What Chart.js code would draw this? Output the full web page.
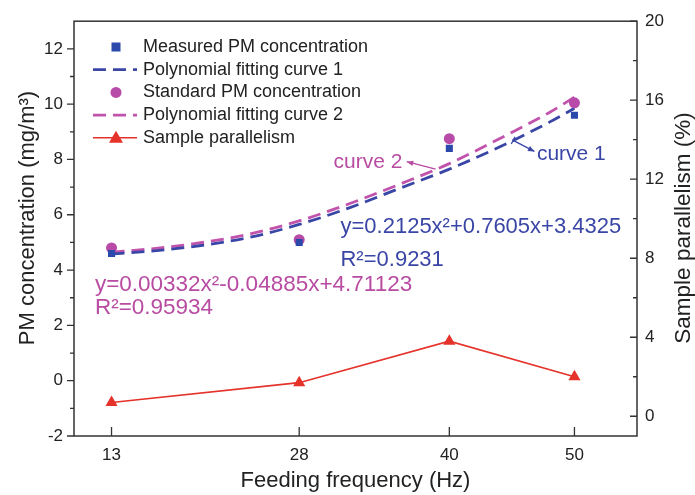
<!DOCTYPE html>
<html>
<head>
<meta charset="utf-8">
<script src="https://cdn.jsdelivr.net/npm/chart.js@4.4.1/dist/chart.umd.min.js"></script>
<style>
  html, body { margin: 0; padding: 0; background: #fff; }
</style>
</head>
<body>
<canvas id="chart" width="695" height="495"></canvas>
<script>
const freq = [13, 28, 40, 50];
const measured = [4.6, 5.0, 8.4, 9.6];
const standard = [4.8, 5.1, 8.75, 10.05];
const parallelism = [0.7, 1.7, 3.8, 2.0];

// fitting curves
const fitX = [13, 16, 20, 24, 28, 32, 36, 40, 44, 48, 50];
const fit1 = [4.58, 4.68, 4.88, 5.18, 5.65, 6.25, 6.95, 7.65, 8.45, 9.35, 9.85];
const fit2 = [4.65, 4.76, 4.98, 5.3, 5.78, 6.4, 7.1, 7.85, 8.75, 9.7, 10.25];

const xTicks = [13, 28, 40, 50];
const yTicks = [-2, 0, 2, 4, 6, 8, 10, 12];
const y2Ticks = [0, 4, 8, 12, 16, 20];

const BLUE = '#3a46a6';
const MAGENTA = '#b84ba2';
const RED = '#e5322a';
const FONT = "'Liberation Sans', Arial, sans-serif";

Chart.defaults.font.family = FONT;

const pts = (xs, ys) => xs.map((x, i) => ({ x: x, y: ys[i] }));

// text notes placed in data coordinates
const notes = [
  { text: 'curve 2', x: 33.5, y: 7.9, color: MAGENTA, align: 'center', size: 21 },
  { text: 'curve 1', x: 47.0, y: 8.19, color: BLUE, align: 'left', size: 21 },
  { text: 'y=0.2125x\u00b2+0.7605x+3.4325', x: 31.3, y: 5.57, color: BLUE, align: 'left', size: 22 },
  { text: 'R\u00b2=0.9231', x: 31.3, y: 4.38, color: BLUE, align: 'left', size: 22 },
  { text: 'y=0.00332x\u00b2-0.04885x+4.71123', x: 11.67, y: 3.48, color: MAGENTA, align: 'left', size: 22.5 },
  { text: 'R\u00b2=0.95934', x: 11.67, y: 2.62, color: MAGENTA, align: 'left', size: 22.5 }
];
const arrows = [
  { from: [38.9, 7.65], to: [36.6, 7.92], color: MAGENTA, tick: false },
  { from: [45.1, 8.69], to: [46.8, 8.29], color: BLUE, tick: true }
];

function arrow(ctx, x1, y1, x2, y2, color, tick) {
  const a = Math.atan2(y2 - y1, x2 - x1);
  ctx.save();
  ctx.strokeStyle = color;
  ctx.fillStyle = color;
  ctx.lineWidth = 1.3;
  ctx.beginPath();
  ctx.moveTo(x1, y1);
  ctx.lineTo(x2, y2);
  ctx.stroke();
  if (tick) {
    ctx.beginPath();
    ctx.moveTo(x1 + 4 * Math.cos(a + Math.PI / 2), y1 + 4 * Math.sin(a + Math.PI / 2));
    ctx.lineTo(x1 - 4 * Math.cos(a + Math.PI / 2), y1 - 4 * Math.sin(a + Math.PI / 2));
    ctx.stroke();
  }
  ctx.beginPath();
  ctx.moveTo(x2, y2);
  ctx.lineTo(x2 - 7 * Math.cos(a - 0.4), y2 - 7 * Math.sin(a - 0.4));
  ctx.lineTo(x2 - 7 * Math.cos(a + 0.4), y2 - 7 * Math.sin(a + 0.4));
  ctx.closePath();
  ctx.fill();
  ctx.restore();
}

const frame = {
  id: 'frame',
  afterDatasetsDraw(chart) {
    const ctx = chart.ctx;
    const a = chart.chartArea;
    const sx = chart.scales.x, sy = chart.scales.y, sy2 = chart.scales.y1;
    ctx.save();
    ctx.strokeStyle = '#333';
    ctx.lineWidth = 1.5;
    ctx.strokeRect(a.left, a.top, a.right - a.left, a.bottom - a.top);

    ctx.lineWidth = 1.3;
    ctx.beginPath();
    // left axis: outward ticks
    yTicks.forEach(v => {
      const p = sy.getPixelForValue(v);
      ctx.moveTo(a.left - 7, p); ctx.lineTo(a.left, p);
      if (v + 1 < sy.max) {
        const m = sy.getPixelForValue(v + 1);
        ctx.moveTo(a.left - 4, m); ctx.lineTo(a.left, m);
      }
    });
    // right axis: inward ticks
    y2Ticks.forEach(v => {
      const p = sy2.getPixelForValue(v);
      ctx.moveTo(a.right - 7, p); ctx.lineTo(a.right, p);
      if (v + 2 < sy2.max) {
        const m = sy2.getPixelForValue(v + 2);
        ctx.moveTo(a.right - 4, m); ctx.lineTo(a.right, m);
      }
    });
    // bottom axis: inward ticks
    xTicks.forEach(v => {
      const p = sx.getPixelForValue(v);
      ctx.moveTo(p, a.bottom); ctx.lineTo(p, a.bottom - 9);
    });
    ctx.stroke();

    // axis titles
    ctx.fillStyle = '#222';
    ctx.font = '22px ' + FONT;
    ctx.textAlign = 'center';
    ctx.textBaseline = 'middle';
    ctx.fillText('Feeding frequency (Hz)', (a.left + a.right) / 2, 481);
    ctx.save();
    ctx.translate(28, 218);
    ctx.rotate(-Math.PI / 2);
    ctx.fillText('PM concentration (mg/m\u00b3)', 0, 0);
    ctx.restore();
    ctx.save();
    ctx.translate(684, 228);
    ctx.rotate(-Math.PI / 2);
    ctx.font = '22.5px ' + FONT;
    ctx.fillText('Sample parallelism (%)', 0, 0);
    ctx.restore();

    // legend
    ctx.font = '18px ' + FONT;
    ctx.textAlign = 'left';
    chart.data.datasets.forEach((ds, i) => {
      const y = 47 + i * 22.7;
      const cx = 116;
      ctx.save();
      if (ds.showLine === false) {
        ctx.fillStyle = ds.pointBackgroundColor;
        if (ds.pointStyle === 'rect') ctx.fillRect(cx - 4.5, y - 4.5, 9, 9);
        else { ctx.beginPath(); ctx.arc(cx, y, 5.5, 0, Math.PI * 2); ctx.fill(); }
      } else {
        ctx.strokeStyle = ds.borderColor;
        ctx.lineWidth = ds.borderWidth;
        ctx.setLineDash(ds.borderDash || []);
        ctx.beginPath();
        ctx.moveTo(93, y); ctx.lineTo(137, y);
        ctx.stroke();
        if (ds.pointStyle === 'triangle') {
          ctx.fillStyle = ds.pointBackgroundColor;
          ctx.beginPath();
          ctx.moveTo(cx, y - 7); ctx.lineTo(cx + 7, y + 5); ctx.lineTo(cx - 7, y + 5);
          ctx.closePath(); ctx.fill();
        }
      }
      ctx.restore();
      ctx.fillStyle = '#222';
      ctx.fillText(ds.label, 143, y);
    });

    // notes and arrows
    arrows.forEach(ar => {
      arrow(ctx, sx.getPixelForValue(ar.from[0]), sy.getPixelForValue(ar.from[1]),
        sx.getPixelForValue(ar.to[0]), sy.getPixelForValue(ar.to[1]), ar.color, ar.tick);
    });
    notes.forEach(n => {
      ctx.fillStyle = n.color;
      ctx.font = n.size + 'px ' + FONT;
      ctx.textAlign = n.align;
      ctx.fillText(n.text, sx.getPixelForValue(n.x), sy.getPixelForValue(n.y));
    });
    ctx.restore();
  }
};

const ctx = document.getElementById('chart').getContext('2d');
const chart = new Chart(ctx, {
  type: 'line',
  data: {
    datasets: [{
      label: 'Measured PM concentration',
      data: pts(freq, measured),
      showLine: false,
      pointStyle: 'rect',
      pointRadius: 5,
      pointBackgroundColor: '#2b49ab',
      pointBorderWidth: 0,
      yAxisID: 'y',
      order: 1
    }, {
      label: 'Polynomial fitting curve 1',
      data: pts(fitX, fit1),
      borderColor: BLUE,
      borderWidth: 2.8,
      borderDash: [13, 7],
      pointRadius: 0,
      cubicInterpolationMode: 'monotone',
      yAxisID: 'y',
      order: 3
    }, {
      label: 'Standard PM concentration',
      data: pts(freq, standard),
      showLine: false,
      pointStyle: 'circle',
      pointRadius: 5.5,
      pointBackgroundColor: '#b84aa8',
      pointBorderWidth: 0,
      yAxisID: 'y',
      order: 2
    }, {
      label: 'Polynomial fitting curve 2',
      data: pts(fitX, fit2),
      borderColor: '#c253ac',
      borderWidth: 2.8,
      borderDash: [13, 7],
      pointRadius: 0,
      cubicInterpolationMode: 'monotone',
      yAxisID: 'y',
      order: 4
    }, {
      label: 'Sample parallelism',
      data: pts(freq, parallelism),
      borderColor: RED,
      borderWidth: 1.6,
      pointStyle: 'triangle',
      pointRadius: 7,
      pointBackgroundColor: RED,
      pointBorderColor: RED,
      pointBorderWidth: 0,
      yAxisID: 'y1',
      order: 0
    }]
  },
  options: {
    responsive: false,
    animation: false,
    layout: { padding: { top: 18, left: 0, right: 0, bottom: 0 } },
    plugins: {
      legend: { display: false },
      tooltip: { enabled: false }
    },
    scales: {
      x: {
        type: 'linear',
        min: 10,
        max: 55,
        afterBuildTicks: s => { s.ticks = xTicks.map(v => ({ value: v })); },
        afterFit: s => { s.height = 59; },
        grid: { display: false, drawTicks: false },
        border: { display: false },
        ticks: { font: { size: 17 }, color: '#222', padding: 9 }
      },
      y: {
        position: 'left',
        min: -2,
        max: 13,
        afterBuildTicks: s => { s.ticks = yTicks.map(v => ({ value: v })); },
        afterFit: s => { s.width = 74; },
        grid: { display: false, drawTicks: false },
        border: { display: false },
        ticks: { font: { size: 17 }, color: '#222', padding: 11 }
      },
      y1: {
        position: 'right',
        min: -1,
        max: 20,
        afterBuildTicks: s => { s.ticks = y2Ticks.map(v => ({ value: v })); },
        afterFit: s => { s.width = 58; },
        grid: { display: false, drawTicks: false },
        border: { display: false },
        ticks: { font: { size: 17 }, color: '#222', padding: 8 }
      }
    }
  },
  plugins: [frame]
});
</script>
</body>
</html>
